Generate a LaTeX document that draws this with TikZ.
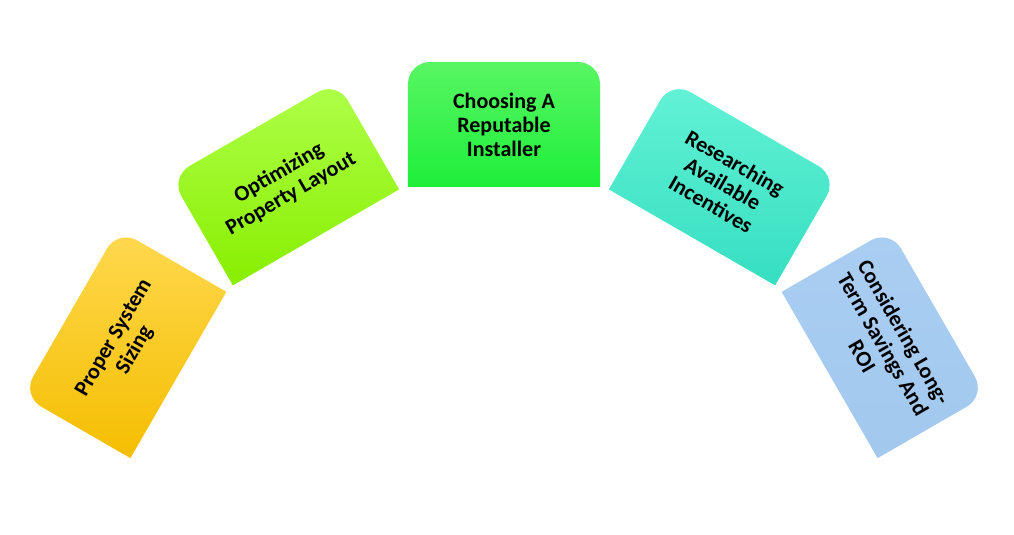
\documentclass[tikz,border=0pt]{standalone}
\usepackage{fontspec}
\setmainfont{Carlito}
\definecolor{yTop}{HTML}{FFD84E}
\definecolor{yBot}{HTML}{F4BE00}
\definecolor{lTop}{HTML}{AEFF48}
\definecolor{lBot}{HTML}{88EE00}
\definecolor{gTop}{HTML}{58F663}
\definecolor{gBot}{HTML}{1EEE3A}
\definecolor{tTop}{HTML}{62F2D6}
\definecolor{tBot}{HTML}{36DEC0}
\definecolor{bTop}{HTML}{AACEF2}
\definecolor{bBot}{HTML}{A2C8EE}
\newcommand\petalbox[5]{%
 \begin{scope}[rotate=#1, transform shape]
  \path[top color=#3, bottom color=#4, shading angle=0]
    (-96,376) -- (-96,479) arc[start angle=180,end angle=90,radius=22]
    -- (74,501) arc[start angle=90,end angle=0,radius=22] -- (96,376) -- cycle;
  \node[lbl] (#2) at (0,438) {#5};
 \end{scope}}
\begin{document}
\begin{tikzpicture}[x=1pt,y=1pt,
  lbl/.style={align=center, font=\fontsize{22}{24}\selectfont\bfseries, text=black, inner sep=0pt}]
\useasboundingbox (-504,28) rectangle (510,563);
\petalbox{60}{p1}{yTop}{yBot}{Proper System\\Sizing}
\petalbox{30}{p2}{lTop}{lBot}{Optimizing\\Property Layout}
\petalbox{0}{p3}{gTop}{gBot}{Choosing A\\Reputable\\Installer}
\petalbox{-30}{p4}{tTop}{tBot}{Researching\\Available\\Incentives}
\petalbox{-60}{p5}{bTop}{bBot}{Considering Long-\\Term Savings And\\ROI}
\end{tikzpicture}
\end{document}
